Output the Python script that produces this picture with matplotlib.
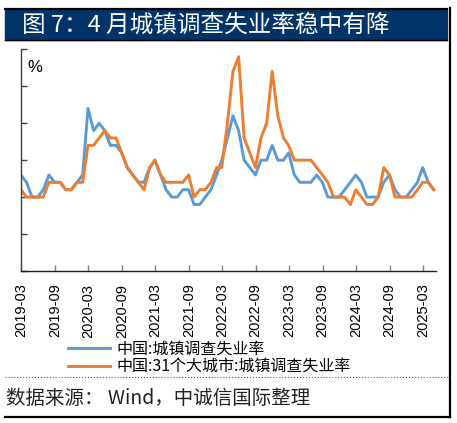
import matplotlib
matplotlib.use('Agg')
import matplotlib.pyplot as plt
from matplotlib.patches import Rectangle
from matplotlib.lines import Line2D
import pandas as pd

plt.rcParams['font.family'] = ['Noto Sans CJK SC', 'DejaVu Sans']

# 月度数据 2019-02 ~ 2025-04 (%)
months = pd.date_range('2019-02-28', '2025-04-30', freq='ME')

national = [5.3, 5.2, 5.0, 5.0, 5.1, 5.3, 5.2, 5.2, 5.1, 5.1, 5.2,
            5.3, 6.2, 5.9, 6.0, 5.9, 5.7, 5.7, 5.6, 5.4, 5.3, 5.2, 5.2,
            5.4, 5.5, 5.3, 5.1, 5.0, 5.0, 5.1, 5.1, 4.9, 4.9, 5.0, 5.1,
            5.3, 5.5, 5.8, 6.1, 5.9, 5.5, 5.4, 5.3, 5.5, 5.5, 5.7, 5.5,
            5.5, 5.6, 5.3, 5.2, 5.2, 5.2, 5.3, 5.2, 5.0, 5.0, 5.0, 5.1,
            5.2, 5.3, 5.2, 5.0, 5.0, 5.0, 5.2, 5.3, 5.1, 5.0, 5.0, 5.1,
            5.2, 5.4, 5.2, 5.1]

city31 = [5.1, 5.0, 5.0, 5.0, 5.0, 5.2, 5.2, 5.2, 5.1, 5.1, 5.2,
          5.2, 5.7, 5.7, 5.8, 5.9, 5.8, 5.8, 5.6, 5.4, 5.3, 5.2, 5.1,
          5.4, 5.5, 5.3, 5.2, 5.2, 5.2, 5.2, 5.3, 5.0, 5.1, 5.1, 5.2,
          5.4, 5.4, 6.0, 6.7, 6.9, 5.8, 5.6, 5.4, 5.8, 6.0, 6.7, 6.1,
          5.8, 5.7, 5.5, 5.5, 5.5, 5.5, 5.4, 5.3, 5.2, 5.0, 5.0, 5.0,
          4.9, 5.1, 5.0, 4.9, 4.9, 5.0, 5.4, 5.3, 5.0, 5.0, 5.0, 5.0,
          5.1, 5.2, 5.2, 5.1]

tick_dates = pd.date_range('2019-03-01', '2025-03-01', freq='6MS')
tick_labels = [d.strftime('%Y-%m') for d in tick_dates]

label_nat = '中国:城镇调查失业率'
label_city = '中国:31个大城市:城镇调查失业率'
title = '图 7：4 月城镇调查失业率稳中有降'
source = '数据来源： Wind，中诚信国际整理'

W, H = 457, 423
fig = plt.figure(figsize=(W / 100, H / 100), dpi=100)


def fx(px):
    return px / W


def fy(py):
    return 1 - py / H


# 外框与标题栏
fig.patches.append(Rectangle((fx(5), fy(40)), fx(442), 30 / H,
                             transform=fig.transFigure, color='#003468', zorder=0))
for xs, ys, lw, ls, c in [((5, 447), (9, 9), 1.6, '-', 'black'),
                          ((5, 447), (40.5, 40.5), 1.0, '-', 'black'),
                          ((449.5, 449.5), (8, 417), 1.6, '-', 'black'),
                          ((5, 450), (416.5, 416.5), 1.6, '-', 'black'),
                          ((5, 450), (377, 377), 0.8, ':', '#555555')]:
    fig.lines.append(Line2D([fx(xs[0]), fx(xs[1])], [fy(ys[0]), fy(ys[1])],
                            transform=fig.transFigure, lw=lw, ls=ls, color=c))

fig.text(fx(22), fy(25), title, color='white', fontsize=17,
         va='center', ha='left', fontweight='medium')
fig.text(fx(6), fy(398), source, color='#222222', fontsize=14,
         va='center', ha='left', fontweight='light')

ax = fig.add_axes([fx(20.7), fy(271), fx(436 - 20.7), (271 - 49.3) / H])
ax.plot(months, national, color='#5B9BD5', lw=2.1, solid_joinstyle='round',
        label=label_nat)
ax.plot(months, city31, color='#ED7D31', lw=2.1, solid_joinstyle='round',
        label=label_city)

ax.set_ylim(4.0, 7.0)
ax.set_yticks([4.0, 4.5, 5.0, 5.5, 6.0, 6.5, 7.0])
ax.set_yticklabels([])
ax.set_xlim(pd.Timestamp('2019-02-27'), pd.Timestamp('2025-05-12'))
ax.set_xticks(tick_dates)
ax.set_xticklabels(tick_labels, rotation=90, fontsize=10.5,
                   family=['Liberation Sans', 'DejaVu Sans'])
ax.tick_params(axis='y', direction='in', length=4, width=1, color='#404040')
ax.tick_params(axis='x', direction='in', length=4, width=1, color='#808080', pad=9)

for s in ['top', 'right']:
    ax.spines[s].set_visible(False)
ax.spines['left'].set_color('#404040')
ax.spines['bottom'].set_color('#202020')
ax.spines['left'].set_linewidth(1.0)
ax.spines['bottom'].set_linewidth(1.0)

ax.text(0.015, 0.95, '%', transform=ax.transAxes, fontsize=12,
        va='top', ha='left', family=['Liberation Sans', 'DejaVu Sans'])

leg = fig.legend(loc='upper left', bbox_to_anchor=(fx(62), fy(334)),
                 frameon=False, fontsize=11.5, handlelength=2.6,
                 handletextpad=0.4, labelspacing=0.05, borderaxespad=0)

fig.savefig('out.png', dpi=100)
